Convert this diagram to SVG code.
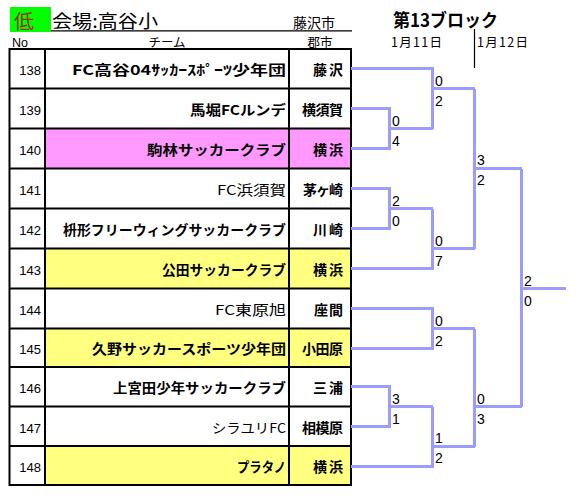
<svg xmlns="http://www.w3.org/2000/svg" width="576" height="498" viewBox="0 0 576 498">
<style>
text{font-family:"Noto Sans CJK JP","Liberation Sans",sans-serif;fill:#000}
.num{font-family:"Liberation Sans",sans-serif;font-size:13px;text-anchor:end}
.team{font-size:13.5px;font-weight:bold}
.thin{font-weight:normal}
.city{font-size:14px;font-weight:bold}
.sc{font-family:"Liberation Sans",sans-serif;font-size:14px}
.hd{font-size:12.5px}
.pink{fill:#ff99ff}
.yel{fill:#ffff80}
.br{fill:none;stroke:#9c9cff;stroke-width:3;stroke-linejoin:miter;shape-rendering:crispEdges}
</style>
<rect width="576" height="498" fill="#fff"/>
<g id="header">
<rect x="10" y="7" width="41" height="25" fill="#00ff00"/>
<text x="14" y="29" font-size="20" style="fill:#993300">低</text>
<text x="52" y="28" font-size="18" textLength="106" lengthAdjust="spacingAndGlyphs">会場:高谷小</text>
<text x="293" y="28" font-size="14">藤沢市</text>
<line x1="51" y1="30.8" x2="352" y2="30.8" stroke="#000" stroke-width="1.2"/>
<text x="12" y="47" class="hd" style="font-family:'Liberation Sans',sans-serif">No</text>
<text x="167" y="47" class="hd" text-anchor="middle">チーム</text>
<text x="320" y="47" class="hd" text-anchor="middle">郡市</text>
<text x="393" y="27" font-size="18" font-weight="bold" textLength="105" lengthAdjust="spacingAndGlyphs">第13ブロック</text>
<text x="391" y="47" class="hd" textLength="51">1月11日</text>
<text x="477" y="47" class="hd" textLength="51">1月12日</text>
<line x1="474.5" y1="29" x2="474.5" y2="68" stroke="#000" stroke-width="1.2"/>
</g>
<g id="table">
<rect x="9.5" y="49" width="341.5" height="436" fill="#fff"/>
<rect x="45" y="128.5" width="306" height="40" class="pink"/>
<rect x="45" y="248.5" width="306" height="40" class="yel"/>
<rect x="45" y="328.5" width="306" height="38.5" class="yel"/>
<rect x="45" y="446" width="306" height="39" class="yel"/>
<g stroke="#000" stroke-width="2" fill="none">
<rect x="9.5" y="49" width="341.5" height="436"/>
<line x1="45" y1="49" x2="45" y2="485"/>
<line x1="289" y1="49" x2="289" y2="485"/>
<path d="M9.5 88.5H351M9.5 128.5H351M9.5 168.5H351M9.5 208.5H351M9.5 248.5H351M9.5 288.5H351M9.5 328.5H351M9.5 367H351M9.5 406.5H351M9.5 446H351"/>
</g>
</g>
<g id="n138"><text class="num" x="41" y="75">138</text><text class="team" x="72" y="75" textLength="214" lengthAdjust="spacingAndGlyphs">FC高谷04ｻｯｶｰｽﾎﾟｰﾂ少年団</text><text class="city" x="313" y="75" textLength="30">藤沢</text></g>
<g id="n139"><text class="num" x="41" y="115">139</text><text class="team" x="190" y="115" textLength="96" lengthAdjust="spacingAndGlyphs">馬堀FCルンデ</text><text class="city" x="302" y="115" textLength="41">横須賀</text></g>
<g id="n140"><text class="num" x="41" y="155">140</text><text class="team" x="147" y="155" textLength="139" lengthAdjust="spacingAndGlyphs">駒林サッカークラブ</text><text class="city" x="313" y="155" textLength="30">横浜</text></g>
<g id="n141"><text class="num" x="41" y="195">141</text><text class="team thin" x="217" y="195" textLength="69" lengthAdjust="spacingAndGlyphs">FC浜須賀</text><text class="city thin" x="303" y="195" textLength="40">茅ヶ崎</text></g>
<g id="n142"><text class="num" x="41" y="235">142</text><text class="team" x="63" y="235" textLength="223" lengthAdjust="spacingAndGlyphs">枡形フリーウィングサッカークラブ</text><text class="city" x="313" y="235" textLength="30">川崎</text></g>
<g id="n143"><text class="num" x="41" y="275">143</text><text class="team" x="162" y="275" textLength="124" lengthAdjust="spacingAndGlyphs">公田サッカークラブ</text><text class="city" x="313" y="275" textLength="30">横浜</text></g>
<g id="n144"><text class="num" x="41" y="315">144</text><text class="team thin" x="215" y="315" textLength="71" lengthAdjust="spacingAndGlyphs">FC東原旭</text><text class="city" x="314" y="315" textLength="29">座間</text></g>
<g id="n145"><text class="num" x="41" y="354">145</text><text class="team" x="92" y="354" textLength="194" lengthAdjust="spacingAndGlyphs">久野サッカースポーツ少年団</text><text class="city" x="302" y="354" textLength="41">小田原</text></g>
<g id="n146"><text class="num" x="41" y="393">146</text><text class="team" x="113" y="393" textLength="173" lengthAdjust="spacingAndGlyphs">上宮田少年サッカークラブ</text><text class="city thin" x="313" y="393" textLength="30">三浦</text></g>
<g id="n147"><text class="num" x="41" y="432.5">147</text><text class="team thin" x="212" y="432.5" textLength="74" lengthAdjust="spacingAndGlyphs">シラユリFC</text><text class="city" x="302" y="432.5" textLength="41">相模原</text></g>
<g id="n148"><text class="num" x="41" y="472">148</text><text class="team" x="237" y="472" textLength="49" lengthAdjust="spacingAndGlyphs">プラタノ</text><text class="city" x="313" y="472" textLength="30">横浜</text></g>
<g id="connectors" class="br">
<path class="br" d="M351 108.5H389.5V148.5H351"/>
<path class="br" d="M389.5 128.5H432.5"/>
<path class="br" d="M351 68.5H432.5V128.5"/>
<path class="br" d="M432.5 88.5H474.5"/>
<path class="br" d="M351 188.5H389.5V228.5H351"/>
<path class="br" d="M389.5 208.5H432.5"/>
<path class="br" d="M351 268.5H432.5V208.5"/>
<path class="br" d="M432.5 248.5H474.5"/>
<path class="br" d="M474.5 88.5V248.5"/>
<path class="br" d="M474.5 168.5H521.5"/>
<path class="br" d="M351 308.5H432.5V348.5H351"/>
<path class="br" d="M432.5 328.5H474.5"/>
<path class="br" d="M351 386.5H389.5V426.5H351"/>
<path class="br" d="M389.5 406.5H432.5"/>
<path class="br" d="M351 466.5H432.5V406.5"/>
<path class="br" d="M432.5 446.5H474.5"/>
<path class="br" d="M474.5 328.5V446.5"/>
<path class="br" d="M474.5 406.5H521.5"/>
<path class="br" d="M521.5 168.5V406.5"/>
<path class="br" d="M521.5 288.5H566"/>
</g>
<g id="scores">
<text class="sc" x="392" y="125.5">0</text><text class="sc" x="392" y="145.5">4</text>
<text class="sc" x="435" y="85.5">0</text><text class="sc" x="435" y="105.5">2</text>
<text class="sc" x="392" y="205.5">2</text><text class="sc" x="392" y="225.5">0</text>
<text class="sc" x="435" y="245.5">0</text><text class="sc" x="435" y="265.5">7</text>
<text class="sc" x="477" y="165">3</text><text class="sc" x="477" y="185">2</text>
<text class="sc" x="435" y="325.5">0</text><text class="sc" x="435" y="345.5">2</text>
<text class="sc" x="392" y="403.5">3</text><text class="sc" x="392" y="423.5">1</text>
<text class="sc" x="435" y="443">1</text><text class="sc" x="435" y="463">2</text>
<text class="sc" x="477" y="403.5">0</text><text class="sc" x="477" y="423.5">3</text>
<text class="sc" x="524" y="285.5">2</text><text class="sc" x="524" y="305.5">0</text>
</g>
</svg>
